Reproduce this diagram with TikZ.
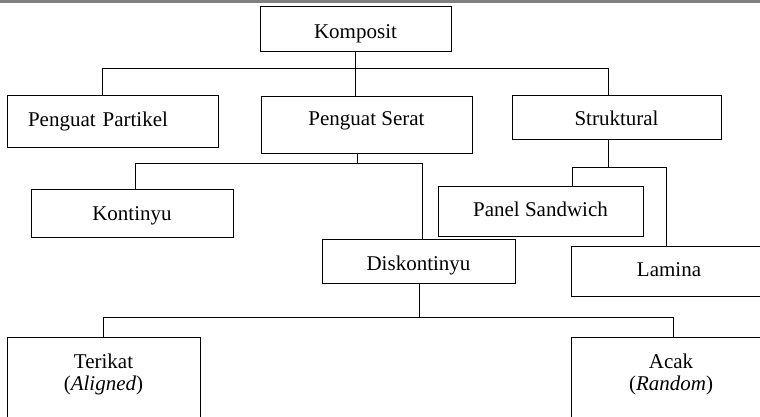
\documentclass[tikz,border=0pt]{standalone}
\usepackage{fontspec}
\setmainfont{Liberation Serif}
\begin{document}
\begin{tikzpicture}[x=1pt,y=-1pt,
  box/.style={draw, line width=1pt, inner sep=0pt, text depth=0pt, font=\fontsize{21}{22}\selectfont},
  tallbox/.style={draw, line width=1pt, inner sep=0pt, font=\fontsize{21}{22}\selectfont},
  conn/.style={line width=1pt}]
\useasboundingbox (0,0) rectangle (760,417);
\fill[gray] (0,0) rectangle (760,3);

\node[box, minimum width=191pt, minimum height=45pt, text height=19pt] (komposit) at (355.5,29.5) {Komposit};
\node[box, minimum width=211pt, minimum height=51pt, text height=10.4pt, text width=169pt, inner xsep=21pt, align=left] (partikel) at (112.5,121.5) {Penguat Partikel};
\node[box, minimum width=211pt, minimum height=56pt, text height=2pt] (serat) at (366.5,125) {Penguat Serat};
\node[box, minimum width=209pt, minimum height=44pt, text height=15.4pt] (struktural) at (616.5,118) {Struktural};
\node[box, minimum width=202pt, minimum height=48pt, text height=14pt] (kontinyu) at (132,213) {Kontinyu};
\node[box, minimum width=205pt, minimum height=50pt, text height=11.4pt] (panel) at (540.5,211) {Panel Sandwich};
\node[box, minimum width=193pt, minimum height=44pt, text height=18pt] (diskontinyu) at (418.5,261) {Diskontinyu};
\node[box, minimum width=196pt, minimum height=50pt, text height=10pt] (lamina) at (669,271) {Lamina};
\node[tallbox] (terikat) at (103.5,387) {\parbox[c][100pt][t]{193pt}{\centering\rule{0pt}{31pt}Terikat\\(\textit{Aligned})}};
\node[tallbox] (acak) at (671,387) {\parbox[c][100pt][t]{200pt}{\centering\rule{0pt}{31pt}Acak\\(\textit{Random})}};

\coordinate (bus1L) at (102,69);
\coordinate (bus1R) at (608,69);
\coordinate (bus2L) at (135,163);
\coordinate (bus2M) at (357,163);
\coordinate (bus2R) at (422,163);
\coordinate (bus3L) at (572,167);
\coordinate (bus3R) at (666,167);
\coordinate (bus4L) at (103,317);
\coordinate (bus4M) at (419,317);
\coordinate (bus4R) at (673,317);

\draw[conn] (komposit.south) -- (serat.north -| komposit.south);
\draw[conn] (partikel.north -| bus1L) |- (bus1R) -- (struktural.north -| bus1R);

\draw[conn] (serat.south -| bus2M) -- (bus2M);
\draw[conn] (kontinyu.north -| bus2L) |- (bus2R) -- (diskontinyu.north -| bus2R);

\draw[conn] (struktural.south -| bus1R) -- (bus1R |- bus3L);
\draw[conn] (panel.north -| bus3L) |- (bus3R) -- (lamina.north -| bus3R);

\draw[conn] (diskontinyu.south -| bus4M) -- (bus4M);
\draw[conn] (terikat.north -| bus4L) |- (bus4R) -- (acak.north -| bus4R);
\end{tikzpicture}
\end{document}
